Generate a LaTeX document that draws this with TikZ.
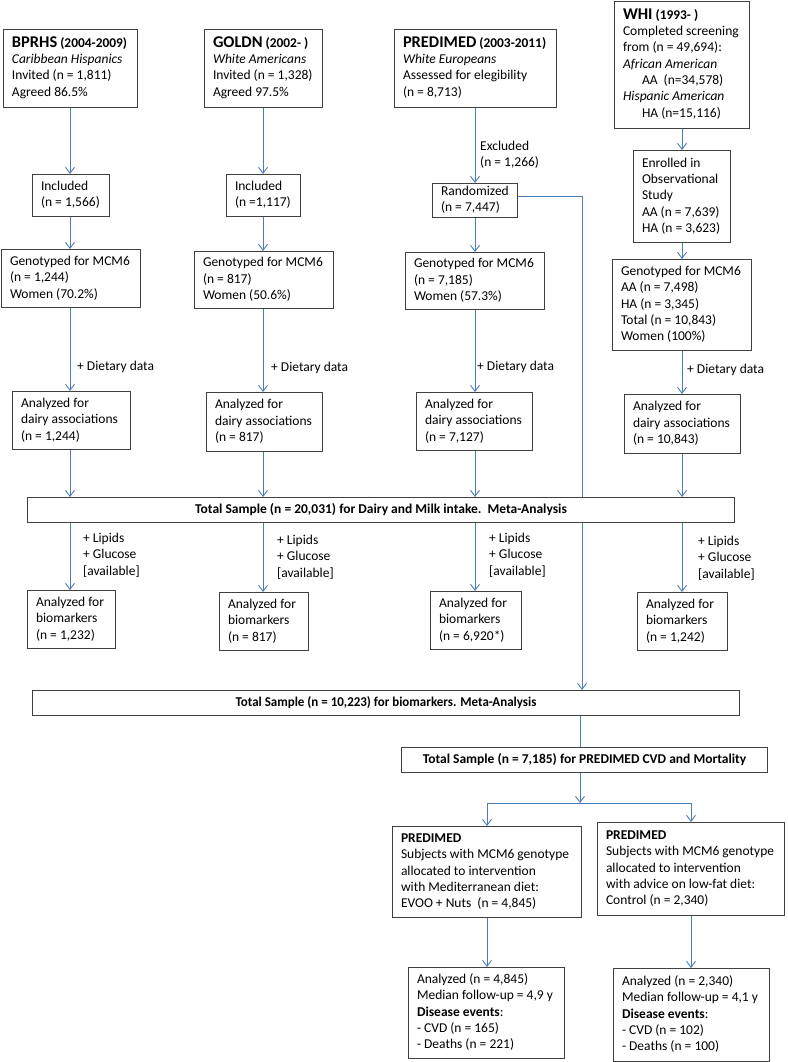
\documentclass[tikz,border=0pt]{standalone}
\usepackage{fontspec}
\setmainfont{Carlito}
\usetikzlibrary{arrows.meta,backgrounds}
\definecolor{arrc}{HTML}{4A7EBB}
\definecolor{boxc}{HTML}{404040}
\newcommand\nf{\fontsize{13.5}{16.3}\selectfont}
\newcommand\hd[2]{{\fontsize{16.4}{16.3}\selectfont\bfseries #1} {\fontsize{13.4}{16.3}\selectfont\bfseries #2}}
\newcommand\bx[6]{%
 \pgfmathsetmacro\bxw{#4-#2}\pgfmathsetmacro\bxh{#5-#3}\pgfmathsetmacro\bxt{#4-#2-17}%
 \node[box, anchor=north west, minimum width=\bxw pt, minimum height=\bxh pt] (#1) at (#2,#3)
 {\makebox[\bxt pt][l]{\begin{tabular}{@{}l@{}}#6\end{tabular}}};}
\newcommand\tbx[6]{%
 \pgfmathsetmacro\bxw{#4-#2}\pgfmathsetmacro\bxh{#5-#3}%
 \node[box, anchor=north west, minimum width=\bxw pt, minimum height=\bxh pt, font=\nf\bfseries] (#1) at (#2,#3) {#6};}
\tikzset{
 box/.style={draw=boxc, line width=1pt, fill=white, inner xsep=8.5pt, inner ysep=0pt, font=\nf},
 ln/.style={draw=arrc, line width=0.9pt},
 arr/.style={ln, -{Straight Barb[length=6pt,width=9pt]}},
 lbl/.style={font=\nf, align=left, inner sep=0pt, anchor=west}
}
\begin{document}
\begin{tikzpicture}[x=1pt,y=-1pt]
\useasboundingbox (0,0) rectangle (787,1062);
% column coordinates
\coordinate (c1) at (70,0);
\coordinate (c2) at (263,0);
\coordinate (c3) at (475,0);
\coordinate (c4) at (682,0);
% top boxes
\bx{b1}{3}{29}{137}{107}{\hd{BPRHS}{(2004-2009)}\\\textit{Caribbean Hispanics}\\Invited (n = 1,811)\\Agreed 86.5\%}
\bx{b2}{204}{29}{322}{107}{\hd{GOLDN}{(2002- )}\\\textit{White Americans}\\Invited (n = 1,328)\\Agreed 97.5\%}
\bx{b3}{394}{29}{556}{107}{\hd{PREDIMED}{(2003-2011)}\\\textit{White Europeans}\\Assessed for elegibility\\(n = 8,713)}
\bx{b4}{614}{1}{749}{128}{\hd{WHI}{(1993- )}\\Completed screening\\from (n = 49,694):\\\textit{African American}\\\hspace{19pt}AA\ \ (n=34,578)\\\textit{Hispanic American}\\\hspace{19pt}HA (n=15,116)}
% second row
\bx{inc1}{32}{174}{109}{216}{Included\\(n = 1,566)}
\bx{inc2}{226}{174}{300}{216}{Included\\(n =1,117)}
\bx{rnd3}{432}{183}{517}{217}{Randomized\\(n = 7,447)}
\bx{enr4}{633}{150}{730}{242}{Enrolled in\\Observational\\Study\\AA (n = 7,639)\\HA (n = 3,623)}
% genotyped
\bx{gen1}{1}{249}{140}{307}{Genotyped for MCM6\\(n = 1,244)\\Women (70.2\%)}
\bx{gen2}{194}{251}{333}{308}{Genotyped for MCM6\\(n = 817)\\Women (50.6\%)}
\bx{gen3}{405}{252}{544}{309}{Genotyped for MCM6\\(n = 7,185)\\Women (57.3\%)}
\bx{gen4}{612}{259}{751}{350}{Genotyped for MCM6\\AA (n = 7,498)\\HA (n = 3,345)\\Total (n = 10,843)\\Women (100\%)}
% analyzed
\bx{ana1}{12}{391}{130}{449}{Analyzed for\\dairy associations\\(n = 1,244)}
\bx{ana2}{206}{392}{322}{451}{Analyzed for\\dairy associations\\(n = 817)}
\bx{ana3}{416}{392}{532}{450}{Analyzed for\\dairy associations\\(n = 7,127)}
\bx{ana4}{624}{394}{740}{453}{Analyzed for\\dairy associations\\(n = 10,843)}
% totals
\tbx{dairy}{27}{497}{734}{522}{Total Sample (n = 20,031) for Dairy and Milk intake.\ \ Meta-Analysis}
% biomarkers
\bx{bio1}{27}{590}{115}{648}{Analyzed for\\biomarkers\\(n = 1,232)}
\bx{bio2}{219}{592}{308}{650}{Analyzed for\\biomarkers\\(n = 817)}
\bx{bio3}{430}{591}{521}{649}{Analyzed for\\biomarkers\\(n = 6,920*)}
\bx{bio4}{637}{592}{727}{650}{Analyzed for\\biomarkers\\(n = 1,242)}
\tbx{tbio}{32}{690}{739}{715}{\scalebox{0.96}[1]{Total Sample (n = 10,223) for biomarkers. Meta-Analysis}}
\tbx{cvd}{401}{747}{767}{772}{Total Sample (n = 7,185) for PREDIMED CVD and Mortality}
% bottom
\bx{med}{392}{826}{581}{917}{\textbf{PREDIMED}\\Subjects with MCM6 genotype\\allocated to intervention\\with Mediterranean diet:\\EVOO + Nuts\ \ (n = 4,845)}
\bx{ctl}{597}{822}{784}{915}{\textbf{PREDIMED}\\Subjects with MCM6 genotype\\allocated to intervention\\with advice on low-fat diet:\\Control (n = 2,340)}
\bx{res1}{408}{967}{564}{1058}{Analyzed (n = 4,845)\\Median follow-up = 4,9 y\\\textbf{Disease events}:\\- CVD (n = 165)\\- Deaths (n = 221)}
\bx{res2}{613}{968}{769}{1061}{Analyzed (n = 2,340)\\Median follow-up = 4,1 y\\\textbf{Disease events}:\\- CVD (n = 102)\\- Deaths (n = 100)}
% labels
\node[lbl] (lex) at (480,155) {Excluded\\(n = 1,266)};
\node[lbl] (ld1) at (77,367) {+ Dietary data};
\node[lbl] (ld2) at (271,368) {+ Dietary data};
\node[lbl] (ld3) at (477,367) {+ Dietary data};
\node[lbl] (ld4) at (687,370) {+ Dietary data};
\node[lbl] (lb1) at (83,555) {+ Lipids\\+ Glucose\\{[available]}};
\node[lbl] (lb2) at (277,557) {+ Lipids\\+ Glucose\\{[available]}};
\node[lbl] (lb3) at (489,555) {+ Lipids\\+ Glucose\\{[available]}};
\node[lbl] (lb4) at (698,558) {+ Lipids\\+ Glucose\\{[available]}};
% connectors
\coordinate (rx) at (582,196);
\coordinate (j) at (580,803);
\begin{pgfonlayer}{background}
\foreach \c/\a/\b/\d/\e/\f in {c1/b1/inc1/gen1/ana1/bio1, c2/b2/inc2/gen2/ana2/bio2, c3/b3/rnd3/gen3/ana3/bio3, c4/b4/enr4/gen4/ana4/bio4}{
 \draw[arr] (\a.south -| \c) -- (\b.north -| \c);
 \draw[arr] (\b.south -| \c) -- (\d.north -| \c);
 \draw[arr] (\d.south -| \c) -- (\e.north -| \c);
 \draw[arr] (\e.south -| \c) -- (dairy.north -| \c);
 \draw[arr] (dairy.south -| \c) -- (\f.north -| \c);
}
\draw[arr] (rnd3.east |- rx) -- (rx) -- (tbio.north -| rx);
\draw[ln] (tbio.south -| j) -- (cvd.north -| j);
\draw[arr] (cvd.south -| j) -- (j);
\draw[ln] (med.north |- j) -- (ctl.north |- j);
\draw[arr] (med.north |- j) -- (med.north);
\draw[arr] (ctl.north |- j) -- (ctl.north);
\draw[arr] (med.south) -- (res1.north -| med.south);
\draw[arr] (ctl.south) -- (res2.north -| ctl.south);
\end{pgfonlayer}
\end{tikzpicture}
\end{document}
